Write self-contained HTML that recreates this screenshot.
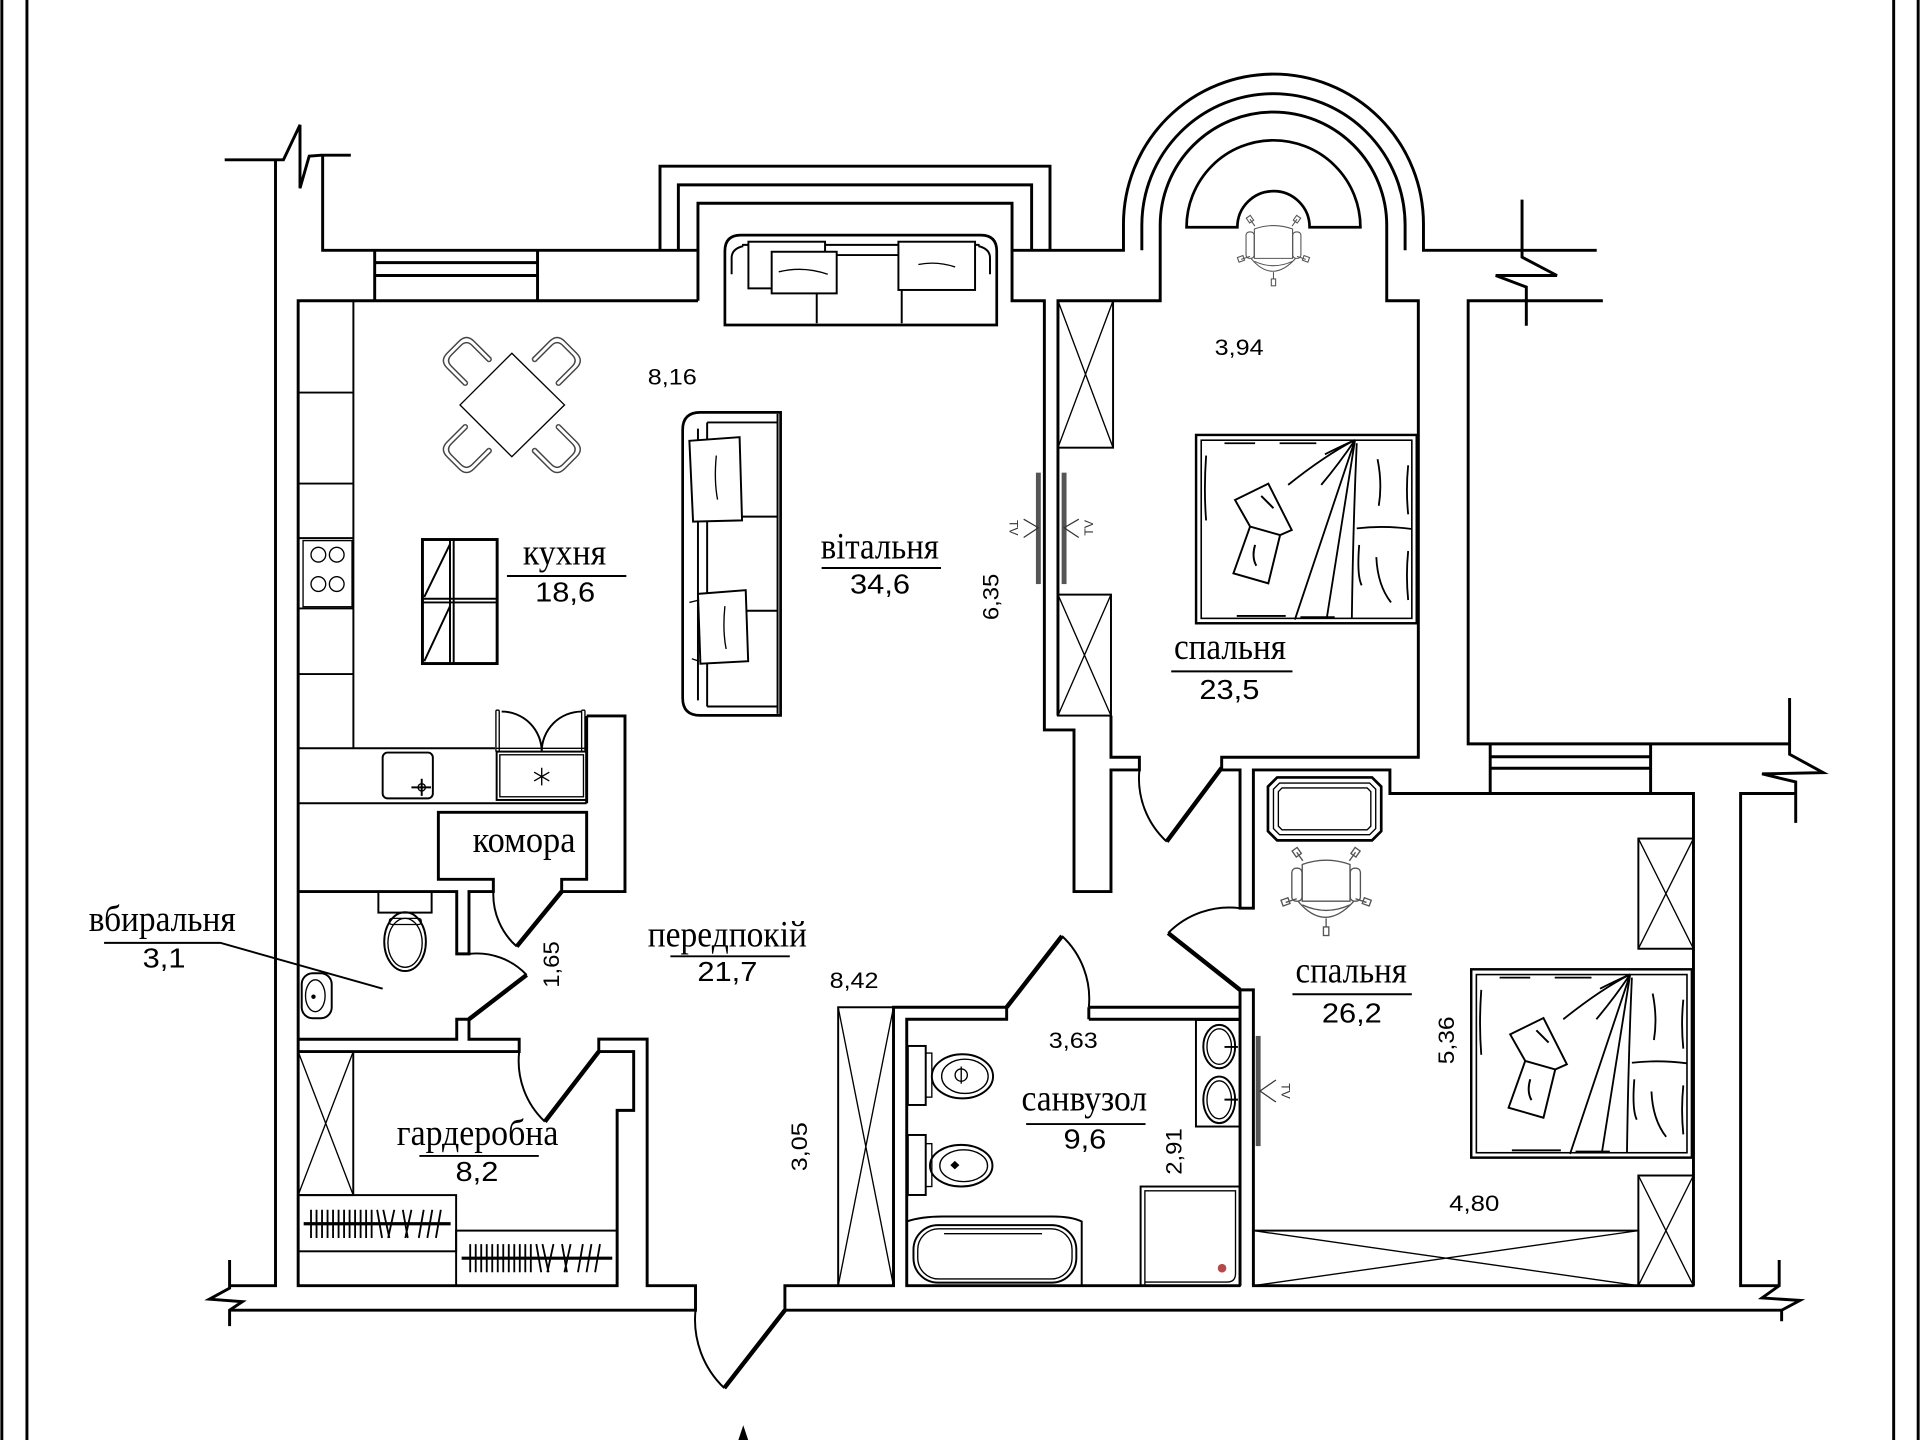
<!DOCTYPE html>
<html><head><meta charset="utf-8"><style>
html,body{margin:0;padding:0;background:#fff;}
svg{display:block;}
.w{fill:none;stroke:#000;stroke-width:2.4;stroke-linejoin:miter;stroke-linecap:butt}
.f{fill:none;stroke:#000;stroke-width:1.6}
.t{fill:none;stroke:#000;stroke-width:1.1}
.g{fill:none;stroke:#555;stroke-width:1.1}
.lf{fill:none;stroke:#000;stroke-width:3.6}
.nm{font-family:"Liberation Serif","DejaVu Serif",serif;font-size:30px;text-anchor:middle;fill:#000}
.nb{font-family:"Liberation Sans","DejaVu Sans",sans-serif;font-size:23px;text-anchor:middle;fill:#000}
.dm{font-family:"Liberation Sans","DejaVu Sans",sans-serif;font-size:18px;text-anchor:middle;fill:#000}
.tv{font-family:"Liberation Sans","DejaVu Sans",sans-serif;font-size:10px;text-anchor:middle;fill:#333}
</style></head><body>
<svg width="1920" height="1440" viewBox="0 0 1568 1176" xmlns="http://www.w3.org/2000/svg">
<defs>
<g id="chair" fill="none" stroke="#555" stroke-width="1.1">
<path d="M-19.5,-20 Q0,-27 19.5,-20 V10 H-19.5 Z"/>
<rect x="-28" y="-17" width="8.3" height="27" rx="3.5"/>
<rect x="19.7" y="-17" width="8.3" height="27" rx="3.5"/>
<path d="M-22.7,10.3 Q-1,36 22.4,10.3"/>
<path d="M-19.5,13 Q0,22 19.5,13"/>
<path d="M-19,-23 L-24,-30 M19,-23 L24,-30 M-24,8 L-33,11 M24,8 L33,11 M0,24 V31"/>
<rect x="-26.5" y="-33" width="5" height="6" transform="rotate(-35 -24 -30)"/>
<rect x="21.5" y="-33" width="5" height="6" transform="rotate(35 24 -30)"/>
<rect x="-36" y="8" width="6" height="5" transform="rotate(-20 -33 11)"/>
<rect x="30" y="8" width="6" height="5" transform="rotate(20 33 11)"/>
<rect x="-2.2" y="31" width="4.4" height="7"/>
</g>
<g id="dch" fill="none" stroke="#444" stroke-width="1.2">
<path d="M13,-15.5 H-7 Q-15.5,-15.5 -15.5,-7 V7 Q-15.5,15.5 -7,15.5 H13"/>
<path d="M13,-12 H-5.5 Q-12,-12 -12,-5.5 V5.5 Q-12,12 -5.5,12 H13"/>
<path d="M13,-15.5 Q15,-13.7 13,-12 M13,15.5 Q15,13.7 13,12"/>
</g>
<g id="bed">
<rect x="976.8" y="355.2" width="180.2" height="153.8" fill="none" stroke="#000" stroke-width="2"/>
<rect x="981" y="359.5" width="172" height="145.5" fill="none" stroke="#000" stroke-width="1.3"/>
<path fill="none" stroke="#000" stroke-width="1.5" d="M1106.6,359.3 L1057.5,506 M1106.6,359.3 L1083.5,505 M1106.6,359.3 Q1082,372 1052,396 M1106.6,359.3 Q1094,378 1079,396 M1106.6,359.3 Q1096,364 1082,371 M1108,362 Q1105,430 1104,505 M1108,431.5 Q1130,429 1153,432 M1125,375 Q1129,395 1126,413 M1124,455 Q1125,478 1136,492 M1110,445 Q1108,470 1112,478 M985,372 Q983,400 985,425 M1000,362 H1025 M1045,362 H1075 M1062,504 H1090 M1010,503 H1050 M1150,380 Q1148,400 1150,420 M1150,450 Q1148,470 1150,490"/>
<path fill="#fff" stroke="#000" stroke-width="1.6" d="M1008.6,408.3 L1035.8,395 L1054.9,432.8 L1045.4,437 L1035.8,476.4 L1007.3,468.2 L1020.9,430 Z M1020.9,430 L1045.4,437 M1030,405 L1040,415 M1025,445 Q1022,455 1026,462"/>
</g>
</defs>
<rect width="1568" height="1176" fill="#fff"/>

<!-- frame -->
<path d="M1.5,0V1176 M22,0V1176 M1546.5,0V1176 M1566.5,0V1176" stroke="#000" stroke-width="2.4" fill="none"/>

<!-- walls -->
<path class="w" d="M183.5,130.5 H231.5 L245,102 V153.75 L252.5,127.5 L262.5,126.75 H286.5"/>
<path class="w" d="M225,130.5 V1050 H187.5"/>
<path class="w" d="M263.5,126.75 V204.4 H570"/>
<path class="w" d="M306,204.4 V245.6 M439,204.4 V245.6 M306,214.5 H439 M306,225 H439"/>
<path class="w" d="M570,245.6 H243.5 V1050 H504 V906.8 H517.5 V858.8 H489 V848.6 H528.5 V1050 H568 V1070 H187.5"/>
<path class="w" d="M187.5,1029 V1052 L171,1061 L198,1063 L187.5,1070 V1083"/>
<path class="w" d="M641,1070 V1050 H729.7 V822.6 H822.1 V832.4 H740.5 V1050 H1012.7"/>
<path class="w" d="M889.2,832.4 H1012.7 M889.2,822.6 V832.4 M889.2,822.6 H1012.7"/>
<path class="w" d="M1012.7,1050 V808.4 H1023.6 V1050 H1383"/>
<path class="w" d="M1383,1050 V648 H1135.1 V628.8 H1023.6 V741.7 H1012.7 V628.8 H997.7 V618.4 H1158.3 V245.6 H1132.5 V184 A92.5 92.5 0 0 0 947.5 184 V245.6 H864 V584.4"/>
<path class="w" d="M907.3,584.4 V618.4 H930.5 V628.8 H907.3 V728.1 H877.1 V596.1 H852.9 V245.6 H826.5 V166 H570 V245.6"/>
<path class="w" d="M539,204.4 V135.7 H857.5 V204.4 M554,204.4 V151 H842.5 V204.4"/>
<path class="w" d="M826.5,204.4 H917.5 V183 A122.5 122.5 0 0 1 1162.5 183 V204.4 H1304"/>
<path class="w" d="M932.5,204.4 V184 A107.5 107.5 0 0 1 1147.5 184 V204.4"/>
<path class="w" d="M1309,245.6 H1199 V607.5 H1461.5"/>
<path class="w" d="M1461.5,570 V616 L1489,631 L1439,632 L1466.5,638.6 V672"/>
<path class="w" d="M1466.5,648 H1421.5 V1050 H1453"/>
<path class="w" d="M1453,1029 V1050 L1439,1060 L1470,1062 L1455,1070 V1079"/>
<path class="w" d="M641,1070 H1455"/>
<path class="w" d="M1243,163 V210 L1271.5,225 L1221.5,225 L1246.5,234.4 V266"/>
<path class="w" d="M1217,607.5 V648 M1348,607.5 V648 M1217,618 H1348 M1217,627.4 H1348"/>
<path class="w" d="M479.1,584.7 H510.4 V728.1 H458.7 V718.1 H479.1 V663.4 H358 V718.1 H402.9 V728.1 H383 V779 H373 V728.1 H243.5"/>
<path class="w" d="M479.1,584.7 V656"/>
<path class="w" d="M243.5,848.7 H373 V832.4 H383 V848.7 H424 V858.8 H243.5"/>

<!-- doors -->
<path class="lf" d="M458.7,728.1 L422,773 M383,832.4 L430.1,796.2 M489,858.8 L445,916 M641,1070 L591.5,1133.6 M822.1,822.6 L867.3,764.4 M1012.7,808.4 L954,762 M997.7,627 L952.8,687.3"/>
<path class="f" d="M402.9,728.1 A57 57 0 0 0 422,773 M383,779 A56 56 0 0 1 430.1,796.2 M424,858.8 A68 68 0 0 0 445,916 M568,1070 A77 77 0 0 0 591.5,1133.6 M867.3,764.4 A70 70 0 0 1 889.2,822.6 M954,762 A70 70 0 0 1 1012.7,741.7 M930.5,628.8 A70 70 0 0 0 952.8,687.3"/>

<!-- kitchen -->
<path class="f" d="M288.6,245.6 V611.1 M243.5,611.1 H404.3 M243.5,656 H479.1 M243.5,320.6 H288.6 M243.5,394.9 H288.6 M243.5,439.5 H288.6 M243.5,496.9 H288.6 M243.5,550.5 H288.6"/>
<rect x="247.5" y="441.5" width="40" height="54" class="t"/>
<circle cx="260" cy="453" r="6" class="t"/><circle cx="275" cy="453" r="6" class="t"/>
<circle cx="260" cy="477" r="6" class="t"/><circle cx="275" cy="477" r="6" class="t"/>
<rect x="312.5" y="614.6" width="41" height="37.4" rx="4" class="f"/>
<circle cx="344.4" cy="643" r="3" class="t"/>
<path class="f" d="M336,643 H352 M344.4,636 V650"/>
<rect x="405.6" y="613.8" width="73.5" height="39.5" class="f"/>
<rect x="408.2" y="616.4" width="68.3" height="34.3" class="t"/>
<path class="t" stroke-width="1.6" d="M442.4,627 V641.4 M436.2,630.6 L448.6,637.8 M436.2,637.8 L448.6,630.6"/>
<path class="t" d="M405,580 V613.8 M407.7,580 V613.8 M475,580 V613.8 M477.7,580 V613.8 M405,580 H407.7 M475,580 H477.7 M405,611.1 H477.7"/>
<path class="f" d="M409.7,581.1 A32.7 32.7 0 0 1 442.4,613.8 M475,581.1 A32.7 32.7 0 0 0 442.4,613.8"/>
<!-- island -->
<rect x="345" y="440.6" width="61" height="101.3" fill="none" stroke="#000" stroke-width="2.4"/>
<path class="f" d="M367.5,440.6 V541.9 M370.5,440.6 V541.9 M345,489 H406 M345,492 H406 M346.5,487.5 L367.5,444.4 M346.5,540 L367.5,495"/>
<!-- dining -->
<polygon points="418,288.5 461,330.7 418,373 375.7,330.7" class="t" fill="none"/>
<use href="#dch" transform="translate(381,294.5) rotate(45)"/>
<use href="#dch" transform="translate(455,294.5) rotate(135)"/>
<use href="#dch" transform="translate(455,367) rotate(225)"/>
<use href="#dch" transform="translate(381,367) rotate(-45)"/>

<!-- living sofa vertical -->
<path d="M637.5,336.75 H572 Q557.5,336.75 557.5,351 V570 Q557.5,584.25 572,584.25 H637.5 Z" fill="none" stroke="#000" stroke-width="2.2"/>
<path class="f" d="M570,350 V572 M577.5,345 V577 M577.5,345 H635 M577.5,577 H635 M577.5,421.9 H635 M577.5,498.75 H635 M635,338 V583"/>
<path d="M563,360 L604,357 L606,425 L566,426 Z" fill="#fff" stroke="#000" stroke-width="1.6"/>
<path class="t" d="M585,372 Q583,392 586,408"/>
<path d="M570,485 L609,482 L611,540 L572,542 Z" fill="#fff" stroke="#000" stroke-width="1.6"/>
<path class="t" d="M592,495 Q590,515 593,530 M563,492 L571,490 M565,538 L571,540"/>
<!-- top sofa -->
<path d="M592,265.4 V205 Q592,192 605,192 H801 Q814,192 814,205 V265.4 Z" fill="none" stroke="#000" stroke-width="2.2"/>
<path class="f" d="M606,200 H800 M597.5,224 V210 Q598,203 607,201 M808.5,224 V210 Q808,203 799,201 M681,208.3 H735 M667,238 V264 M736.4,236 V264"/>
<rect x="611.2" y="197.4" width="62.6" height="38.1" fill="#fff" stroke="#000" stroke-width="1.6"/>
<rect x="630.2" y="205.6" width="53.1" height="34" fill="#fff" stroke="#000" stroke-width="1.6"/>
<rect x="733.7" y="197.4" width="62.6" height="39.4" fill="#fff" stroke="#000" stroke-width="1.6"/>
<path class="t" d="M636,222 Q656,217 676,224 M750,216 Q765,213 780,218"/>

<!-- bedroom 1 -->
<rect x="864" y="245.6" width="45" height="120" class="f"/>
<path class="t" d="M864,245.6 L909,365.6 M909,245.6 L864,365.6"/>
<rect x="864" y="485.6" width="43.3" height="98.8" class="f"/>
<path class="t" d="M864,485.6 L907.3,584.4 M907.3,485.6 L864,584.4"/>
<rect x="846" y="386" width="4" height="91" fill="#555"/>
<rect x="867" y="386" width="4" height="91" fill="#555"/>
<path fill="none" stroke="#333" stroke-width="1" d="M836,424 L848,431 L836,439 M881,424 L869,431 L881,439"/>
<text class="tv" transform="translate(828,431) rotate(90)" dy="3.5">TV</text>
<text class="tv" transform="translate(889,431) rotate(-90)" dy="3.5">TV</text>
<use href="#bed"/>
<path d="M969,185.6 A71 71 0 0 1 1111,185.6 H1069.5 A29.5 29.5 0 0 0 1010.5,185.6 Z" fill="none" stroke="#000" stroke-width="2.2"/>
<use href="#chair" transform="translate(1040,203) scale(0.8)"/>

<!-- bedroom 2 -->
<path d="M1043,634.9 H1120.5 L1128,642.4 V678.8 L1120.5,686.3 H1043 L1035.5,678.8 V642.4 Z" fill="none" stroke="#000" stroke-width="2.2"/>
<path class="t" d="M1045,639.5 H1118.5 L1123.5,644.5 V676.7 L1118.5,681.7 H1045 L1040,676.7 V644.5 Z"/>
<path class="t" d="M1047,643.5 H1116.5 L1119.5,646.5 V674.7 L1116.5,677.7 H1047 L1044,674.7 V646.5 Z"/>
<use href="#chair" transform="translate(1083,726)"/>
<rect x="1338" y="684.8" width="45" height="90" class="f"/>
<path class="t" d="M1338,684.8 L1383,774.8 M1383,684.8 L1338,774.8"/>
<rect x="1338" y="960" width="45" height="90" class="f"/>
<path class="t" d="M1338,960 L1383,1050 M1383,960 L1338,1050"/>
<rect x="1023.6" y="1005" width="314.4" height="45" class="f"/>
<path class="t" d="M1023.6,1005 L1338,1050 M1338,1005 L1023.6,1050"/>
<use href="#bed" transform="translate(224.7,436.4)"/>
<rect x="1025.5" y="846" width="4" height="90" fill="#555"/>
<path fill="none" stroke="#333" stroke-width="1" d="M1042,882 L1029,891 L1042,900"/>
<text class="tv" transform="translate(1050,891) rotate(90)" dy="3.5">TV</text>

<!-- hall wardrobe -->
<rect x="684.5" y="822.6" width="45.2" height="227.6" class="f"/>
<path class="t" d="M684.5,822.6 L729.7,1050.2 M729.7,822.6 L684.5,1050.2"/>

<!-- bathroom -->
<path class="f" d="M740.5,997.6 Q752,993.5 770,993.5 H860 Q875,993.5 883.4,997.6 V1050.2"/>
<rect x="746" y="1000.5" width="133" height="47" rx="20" class="f"/>
<rect x="749.5" y="1003.5" width="126" height="41" rx="17" class="t"/>
<path class="t" d="M771,1007.5 H851"/>
<rect x="741.4" y="854.2" width="14.6" height="48.2" class="f"/>
<rect x="756" y="860" width="5" height="36" class="t"/>
<ellipse cx="786" cy="879" rx="25" ry="18" class="f"/>
<ellipse cx="788" cy="879" rx="19" ry="14" class="t"/>
<circle cx="785" cy="878" r="5" class="t"/>
<path class="t" d="M785,871 V885"/>
<rect x="741.4" y="926.9" width="14.6" height="49" class="f"/>
<rect x="756" y="934" width="5" height="35" class="t"/>
<ellipse cx="785" cy="952" rx="25.5" ry="17" class="f"/>
<ellipse cx="787" cy="952" rx="19.5" ry="13" class="t"/>
<path d="M779.8,948 L783.5,951.5 L779.8,955 L776.1,951.5 Z" fill="#000"/>
<rect x="976.7" y="833" width="35.9" height="87" class="f"/>
<ellipse cx="995.7" cy="854.7" rx="13" ry="17.7" class="f"/>
<ellipse cx="995.7" cy="854.7" rx="10" ry="14.5" class="t"/>
<ellipse cx="995.7" cy="898.2" rx="13" ry="19" class="f"/>
<ellipse cx="995.7" cy="898.2" rx="10" ry="15.5" class="t"/>
<path class="f" d="M1000,855 H1011 M1000,898 H1011"/>
<rect x="931.5" y="969" width="81" height="81.2" class="f"/>
<path class="t" d="M935,1049 V972.5 H1009 V1040 Q1009,1047 1002,1047 H935"/>
<circle cx="998" cy="1035.7" r="3.5" fill="#b54a4a"/>

<!-- WC room -->
<rect x="309" y="728.1" width="43.5" height="17.2" class="f"/>
<ellipse cx="330.8" cy="769" rx="17" ry="24" class="f"/>
<ellipse cx="330.8" cy="770" rx="14" ry="20" class="t"/>
<rect x="318" y="750" width="26" height="5" rx="2" class="t"/>
<rect x="246.4" y="794.8" width="24.5" height="36.8" rx="9" class="f"/>
<ellipse cx="257.5" cy="813.2" rx="8" ry="13" class="t"/>
<circle cx="256" cy="814" r="1.8" fill="#000"/>

<!-- garderobna -->
<rect x="243.5" y="858.8" width="45" height="117.2" class="f"/>
<path class="t" d="M243.5,858.8 L288.5,976 M288.5,858.8 L243.5,976"/>
<rect x="243.5" y="976" width="129" height="45.9" class="f"/>
<path stroke="#000" stroke-width="2.6" d="M248,999.4 H368"/>
<path stroke="#000" stroke-width="1.5" fill="none" d="M254,988V1011M258.5,988V1011M263,988V1011M267.5,988V1011M272,988V1011M276.5,988V1011M281,988V1011M285.5,988V1011M290,988V1011M294.5,988V1011M299,988V1011M303.5,988V1011M308,988L312,1011M313,988L318,1011M322,988L317,1011M329,988L333,1011M336,988L331,1011M346,988L342,1011M353,988L349,1011M360,988L356,1011"/>
<rect x="372.5" y="1005" width="131.5" height="45" class="f"/>
<path stroke="#000" stroke-width="2.6" d="M377,1027.5 H500"/>
<path stroke="#000" stroke-width="1.5" fill="none" d="M384,1016V1039M388.5,1016V1039M393,1016V1039M397.5,1016V1039M402,1016V1039M406.5,1016V1039M411,1016V1039M415.5,1016V1039M420,1016V1039M424.5,1016V1039M429,1016V1039M433.5,1016V1039M438,1016L442,1039M443,1016L448,1039M452,1016L447,1039M459,1016L463,1039M466,1016L461,1039M476,1016L472,1039M483,1016L479,1039M490,1016L486,1039"/>

<!-- entrance arrow -->
<polygon points="603,1176 611,1176 607,1164" fill="#000"/>

<!-- labels -->
<g>
<text class="nm" x="461" y="461" textLength="68" lengthAdjust="spacingAndGlyphs">кухня</text>
<path class="f" d="M414,470.4 H511.5"/>
<text class="nb" x="461.5" y="491.3" textLength="49" lengthAdjust="spacingAndGlyphs">18,6</text>

<text class="nm" x="718.5" y="456" textLength="96.5" lengthAdjust="spacingAndGlyphs">вітальня</text>
<path class="f" d="M671,463.9 H768.5"/>
<text class="nb" x="718.7" y="484.5" textLength="49" lengthAdjust="spacingAndGlyphs">34,6</text>

<text class="nm" x="1004.5" y="538" textLength="91.5" lengthAdjust="spacingAndGlyphs">спальня</text>
<path class="f" d="M956.5,548.3 H1055.5"/>
<text class="nb" x="1004" y="571" textLength="49" lengthAdjust="spacingAndGlyphs">23,5</text>

<text class="nm" x="1103.5" y="802.5" textLength="91" lengthAdjust="spacingAndGlyphs">спальня</text>
<path class="f" d="M1055.5,812 H1153"/>
<text class="nb" x="1104" y="835" textLength="49" lengthAdjust="spacingAndGlyphs">26,2</text>

<text class="nm" x="885.5" y="907" textLength="102.5" lengthAdjust="spacingAndGlyphs">санвузол</text>
<path class="f" d="M838,918 H935.5"/>
<text class="nb" x="886" y="938" textLength="35" lengthAdjust="spacingAndGlyphs">9,6</text>

<text class="nm" x="594" y="773" textLength="130" lengthAdjust="spacingAndGlyphs">передпокій</text>
<path class="f" d="M547.5,781 H645"/>
<text class="nb" x="594" y="801" textLength="49" lengthAdjust="spacingAndGlyphs">21,7</text>

<text class="nm" x="390" y="935" textLength="132" lengthAdjust="spacingAndGlyphs">гардеробна</text>
<path class="f" d="M342.5,944 H440"/>
<text class="nb" x="389.5" y="964.5" textLength="35" lengthAdjust="spacingAndGlyphs">8,2</text>

<text class="nm" x="132.5" y="760.5" textLength="120" lengthAdjust="spacingAndGlyphs">вбиральня</text>
<path class="f" d="M85,770 H180 L312.5,807.4"/>
<text class="nb" x="134" y="790" textLength="35" lengthAdjust="spacingAndGlyphs">3,1</text>

<text class="nm" x="428" y="696" textLength="84" lengthAdjust="spacingAndGlyphs">комора</text>

<text class="dm" x="549" y="314" textLength="40" lengthAdjust="spacingAndGlyphs">8,16</text>
<text class="dm" x="1012" y="290" textLength="40" lengthAdjust="spacingAndGlyphs">3,94</text>
<text class="dm" x="697.5" y="807" textLength="40" lengthAdjust="spacingAndGlyphs">8,42</text>
<text class="dm" x="876.5" y="856" textLength="40" lengthAdjust="spacingAndGlyphs">3,63</text>
<text class="dm" x="1204" y="989" textLength="41" lengthAdjust="spacingAndGlyphs">4,80</text>
<text class="dm" transform="translate(809,487.5) rotate(-90)" dy="6.5" textLength="38" lengthAdjust="spacingAndGlyphs">6,35</text>
<text class="dm" transform="translate(450,787.7) rotate(-90)" dy="6.5" textLength="38" lengthAdjust="spacingAndGlyphs">1,65</text>
<text class="dm" transform="translate(652.5,936.5) rotate(-90)" dy="6.5" textLength="40" lengthAdjust="spacingAndGlyphs">3,05</text>
<text class="dm" transform="translate(958.5,940.4) rotate(-90)" dy="6.5" textLength="38" lengthAdjust="spacingAndGlyphs">2,91</text>
<text class="dm" transform="translate(1181,849.6) rotate(-90)" dy="6.5" textLength="39" lengthAdjust="spacingAndGlyphs">5,36</text>
</g>
</svg>
</body></html>
